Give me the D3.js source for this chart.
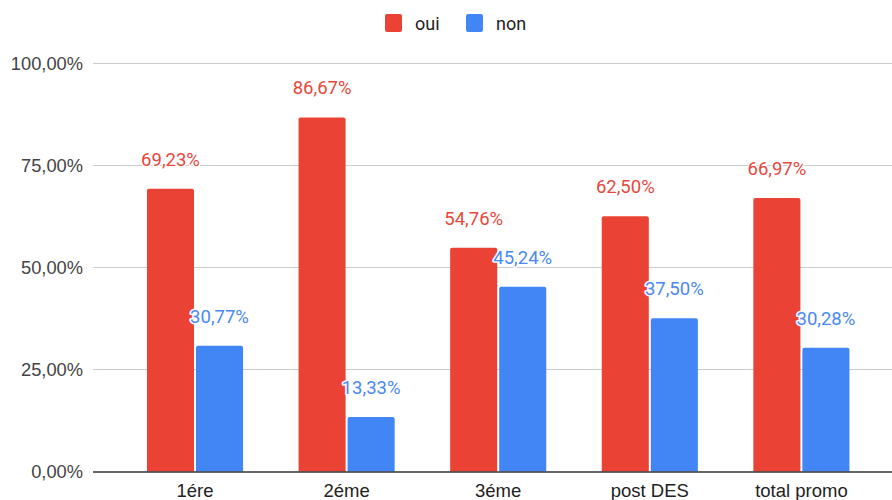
<!DOCTYPE html>
<html><head><meta charset="utf-8">
<script src="https://cdn.jsdelivr.net/npm/d3@7"></script>
<style>
html,body{margin:0;padding:0;background:#fff;}
svg{display:block;}
</style></head>
<body>
<svg id="c" width="892" height="500"></svg>
<script>
const categories = ["1ére", "2éme", "3éme", "post DES", "total promo"];
const seriesNames = ["oui", "non"];
const ouiValues = [69.23, 86.67, 54.76, 62.50, 66.97];
const nonValues = [30.77, 13.33, 45.24, 37.50, 30.28];
const yTicks = [0, 25, 50, 75, 100];
const colors = ["#ea4335", "#4285f4"];
const labelColors = ["#e8473d", "#4a88f2"];

const svg = d3.select("#c");
const plotLeft = 93, plotRight = 892;
const y = d3.scaleLinear().domain([0, 100]).range([471.5, 63]);
const x = d3.scaleBand().domain(categories).range([119.2, 877.2]).paddingInner(0.366).paddingOuter(0.183);
const xs = d3.scaleBand().domain(seriesNames).range([0, x.bandwidth()]).paddingInner(0.04);

const fmt = v => d3.format(".2f")(v).replace(".", ",") + "%";

// gridlines
svg.append("g").selectAll("line").data(yTicks.filter(t => t > 0)).join("line")
  .attr("x1", plotLeft).attr("x2", plotRight)
  .attr("y1", d => Math.round(y(d)) + 0.5).attr("y2", d => Math.round(y(d)) + 0.5)
  .attr("stroke", "#cccccc").attr("stroke-width", 1);

// y tick labels
svg.append("g").selectAll("text").data(yTicks).join("text")
  .attr("x", 83).attr("y", d => y(d) + 6.5)
  .attr("text-anchor", "end")
  .attr("font-family", "'Liberation Sans', Arial, sans-serif")
  .attr("font-size", 18.3).attr("fill", "#444")
  .text(d => d3.format(".2f")(d).replace(".", ",") + "%");

const rows = categories.map((c, i) => ({cat: c, vals: [ouiValues[i], nonValues[i]]}));

function topRounded(x0, y0, w, h, r) {
  return `M${x0},${y0 + h}V${y0 + r}Q${x0},${y0} ${x0 + r},${y0}H${x0 + w - r}Q${x0 + w},${y0} ${x0 + w},${y0 + r}V${y0 + h}Z`;
}

const groups = svg.append("g").selectAll("g").data(rows).join("g")
  .attr("transform", d => `translate(${x(d.cat)},0)`);

groups.selectAll("path").data(d => d.vals.map((v, j) => ({v, j}))).join("path")
  .attr("d", d => topRounded(xs(seriesNames[d.j]), y(d.v), xs.bandwidth(), y(0) - y(d.v), 2))
  .attr("fill", d => colors[d.j]);

// axis baseline
svg.append("line").attr("x1", plotLeft).attr("x2", plotRight)
  .attr("y1", 472).attr("y2", 472).attr("stroke", "#333").attr("stroke-width", 1.3);

// data labels
groups.selectAll("text.lbl").data(d => d.vals.map((v, j) => ({v, j}))).join("text")
  .attr("class", "lbl")
  .attr("x", d => xs(seriesNames[d.j]) + xs.bandwidth() / 2)
  .attr("y", d => y(d.v) - 23)
  .attr("text-anchor", "middle")
  .attr("font-family", "Roboto, sans-serif")
  .attr("font-size", 18.5)
  .attr("fill", d => labelColors[d.j])
  .attr("stroke", "#fff").attr("stroke-width", 3).attr("paint-order", "stroke")
  .attr("stroke-linejoin", "round")
  .text(d => fmt(d.v));

// x axis labels
svg.append("g").selectAll("text").data(categories).join("text")
  .attr("x", d => x(d) + x.bandwidth() / 2)
  .attr("y", 497)
  .attr("text-anchor", "middle")
  .attr("font-family", "'Liberation Sans', Arial, sans-serif")
  .attr("font-size", 18.5).attr("fill", "#222")
  .text(d => d);

// legend
const legend = svg.append("g");
const legendX = [385, 466];
seriesNames.forEach((s, i) => {
  legend.append("rect").attr("x", legendX[i]).attr("y", 14).attr("width", 17).attr("height", 18)
    .attr("rx", 2).attr("fill", colors[i]);
  legend.append("text").attr("x", legendX[i] + 30).attr("y", 29.5)
    .attr("font-family", "Roboto, sans-serif").attr("font-size", 18)
    .attr("fill", "#222").text(s);
});
</script>
</body></html>
